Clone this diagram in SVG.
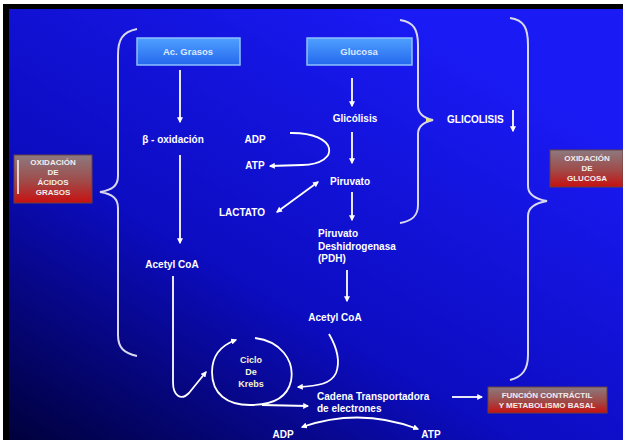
<svg xmlns="http://www.w3.org/2000/svg" width="623" height="440" viewBox="0 0 623 440">
<defs>
<linearGradient id="bg" x1="0" y1="1" x2="0.75" y2="0.1">
<stop offset="0" stop-color="#00003c"/>
<stop offset="0.45" stop-color="#0c0cc0"/>
<stop offset="1" stop-color="#1a1af4"/>
</linearGradient>
<linearGradient id="blueBox" x1="0" y1="0" x2="0" y2="1">
<stop offset="0" stop-color="#4fa0ff"/>
<stop offset="1" stop-color="#2468ee"/>
</linearGradient>
<linearGradient id="redBox" x1="0" y1="0" x2="0" y2="1">
<stop offset="0" stop-color="#8c7a80"/>
<stop offset="0.55" stop-color="#a04a48"/>
<stop offset="1" stop-color="#c81010"/>
</linearGradient>
<marker id="ah" viewBox="0 0 10 10" refX="8" refY="5" markerWidth="6" markerHeight="6" markerUnits="userSpaceOnUse" orient="auto-start-reverse">
<path d="M0,0 L10,5 L0,10 z" fill="#ffffff"/>
</marker>
<style>
.t{font-family:"Liberation Sans",Arial,sans-serif;font-weight:bold;font-size:10px;fill:#ffffff}
.c{text-anchor:middle}
.bx{font-family:"Liberation Sans",Arial,sans-serif;font-weight:bold;font-size:9.5px;fill:#dde8ff;text-anchor:middle}
.rt{font-family:"Liberation Sans",Arial,sans-serif;font-weight:bold;font-size:8px;fill:#f2eeee;text-anchor:middle}
.kr{font-family:"Liberation Sans",Arial,sans-serif;font-weight:bold;font-size:9px;fill:#f4f4d0;text-anchor:middle}
.brace{fill:none;stroke:#d8d8ee;stroke-width:2}
.ln{fill:none;stroke:#ffffff;stroke-width:1.8}
.bb{fill:url(#blueBox);stroke:#8cc0ff;stroke-width:1.5}
.rb{fill:url(#redBox);stroke:#6a4040;stroke-width:1}
</style>
</defs>
<rect x="0" y="0" width="623" height="440" fill="#ffffff"/>
<rect x="3" y="4" width="620" height="436" fill="#000000"/>
<rect x="9" y="9" width="614" height="431" fill="url(#bg)"/>

<g id="braces">
<path class="brace" d="M137,29 C122,32 118,40 118,55 L118,176 C118,186 112,190 100,192 C112,194 118,198 118,208 L118,335 C118,348 124,353 137,356"/>
<path class="brace" d="M400,20 C414,22 418,30 418,45 L418,106 C418,114 424,118 433,120 C424,122 418,126 418,134 L418,205 C418,216 412,221 400,223"/>
<path d="M426,118 L433,120 L426,122 z" fill="#e8e870"/>
<path class="brace" d="M510,18 C524,20 528,28 528,45 L528,186 C528,195 535,199 547,201 C535,203 528,207 528,216 L528,355 C528,370 522,377 510,380"/>
</g>

<g id="connectors">
<path class="ln" d="M180,70 L180,122" marker-end="url(#ah)"/>
<path class="ln" d="M180,155 L180,243" marker-end="url(#ah)"/>
<path class="ln" d="M352,78 L352,106" marker-end="url(#ah)"/>
<path class="ln" d="M352,132 L352,163" marker-end="url(#ah)"/>
<path class="ln" d="M352,192 L352,220" marker-end="url(#ah)"/>
<path class="ln" d="M347,270 L347,301" marker-end="url(#ah)"/>
<path class="ln" d="M513,110 L513,131" marker-end="url(#ah)"/>
<path class="ln" d="M290,133 C338,132 342,164 302,165 L270,166" marker-end="url(#ah)"/>
<path class="ln" d="M277,212 L318,182" marker-start="url(#ah)" marker-end="url(#ah)"/>
<path class="ln" d="M173,276 L173,382 C173,396 181,401 189,393 L206,372" marker-end="url(#ah)"/>
<path class="ln" d="M329,334 C336,346 341,360 336,373 C331,384 318,386 298,387" marker-end="url(#ah)"/>
<path class="ln" d="M255,338 C280,341 295,360 291,381 C287,399 271,405 250,405 C227,405 212,394 212,372 C212,355 222,345 236,340" marker-end="url(#ah)"/>
<path class="ln" d="M262,405 L308,406" marker-end="url(#ah)"/>
<path class="ln" d="M452,397 L482,397" marker-end="url(#ah)"/>
<path class="ln" d="M302,427 Q360,407 418,429" marker-start="url(#ah)" marker-end="url(#ah)"/>
</g>

<g id="ac-grasos">
<rect class="bb" x="137" y="38" width="103" height="27"/>
<text class="bx" x="188" y="55">Ac. Grasos</text>
</g>
<g id="glucosa">
<rect class="bb" x="307" y="38" width="105" height="27"/>
<text class="bx" x="359" y="55">Glucosa</text>
</g>
<g id="ox-acidos">
<rect class="rb" x="14" y="155" width="78" height="48"/>
<rect x="17" y="160" width="2" height="34" fill="#f4f0f0" opacity="0.8"/>
<text class="rt" x="53" y="165">OXIDACIÓN</text>
<text class="rt" x="53" y="175">DE</text>
<text class="rt" x="53" y="185">ÁCIDOS</text>
<text class="rt" x="53" y="195">GRASOS</text>
</g>
<g id="ox-glucosa">
<rect class="rb" x="550" y="150" width="73" height="37"/>
<text class="rt" x="587" y="161">OXIDACIÓN</text>
<text class="rt" x="587" y="171">DE</text>
<text class="rt" x="587" y="181">GLUCOSA</text>
</g>
<g id="funcion">
<rect class="rb" x="488" y="387" width="119" height="26"/>
<text class="rt" x="547" y="398">FUNCIÓN CONTRÁCTIL</text>
<text class="rt" x="547" y="408">Y METABOLISMO BASAL</text>
</g>

<g id="beta-oxidacion"><text class="t c" x="173" y="143">β - oxidación</text></g>
<g id="acetyl-left"><text class="t c" x="172" y="268">Acetyl CoA</text></g>
<g id="glicolisis"><text class="t c" x="355" y="122">Glicólisis</text></g>
<g id="adp"><text class="t c" x="255" y="143">ADP</text></g>
<g id="atp"><text class="t c" x="255" y="169">ATP</text></g>
<g id="piruvato"><text class="t c" x="350" y="185">Piruvato</text></g>
<g id="lactato"><text class="t c" x="242" y="216">LACTATO</text></g>
<g id="pdh">
<text class="t" x="318" y="237">Piruvato</text>
<text class="t" x="318" y="250">Deshidrogenasa</text>
<text class="t" x="318" y="262">(PDH)</text>
</g>
<g id="acetyl-right"><text class="t c" x="335" y="321">Acetyl CoA</text></g>
<g id="glicolisis-label"><text class="t" x="447" y="123">GLICOLISIS</text></g>
<g id="krebs">
<text class="kr" x="251" y="363">Ciclo</text>
<text class="kr" x="251" y="375">De</text>
<text class="kr" x="251" y="387">Krebs</text>
</g>
<g id="cadena">
<text class="t" x="317" y="400">Cadena Transportadora</text>
<text class="t" x="317" y="412">de electrones</text>
</g>
<g id="adp2"><text class="t c" x="283" y="438">ADP</text></g>
<g id="atp2"><text class="t c" x="431" y="438">ATP</text></g>
</svg>
